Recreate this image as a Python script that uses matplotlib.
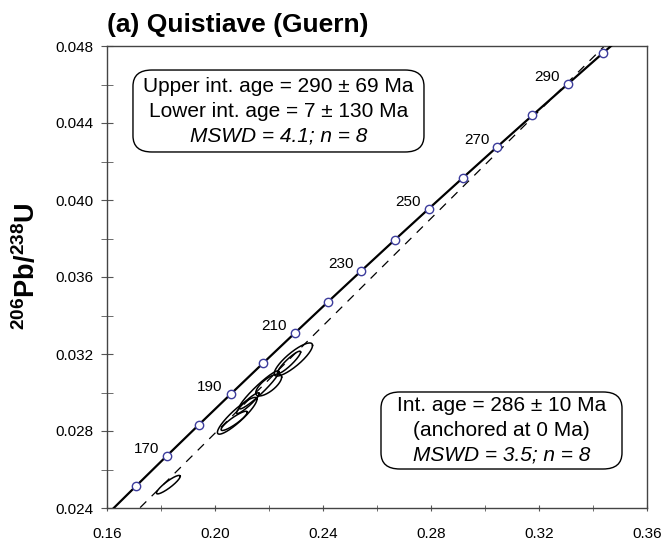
import numpy as np
import matplotlib
matplotlib.use('Agg')
import matplotlib.pyplot as plt
from matplotlib.patches import FancyBboxPatch

plt.rcParams['font.family'] = ['Liberation Sans', 'DejaVu Sans']
plt.rcParams['mathtext.fontset'] = 'custom'
plt.rcParams['mathtext.rm'] = 'Liberation Sans'
plt.rcParams['mathtext.bf'] = 'Liberation Sans:bold'

# concordia tick points (age in Ma, 207Pb/235U, 206Pb/238U)
conc_age = [150, 160, 170, 180, 190, 200, 210, 220, 230, 240, 250, 260, 270, 280, 290, 300, 310]
conc_x = [0.15920, 0.17068, 0.18225, 0.19396, 0.20578, 0.21770, 0.22975, 0.24191, 0.25420,
          0.26660, 0.27915, 0.29183, 0.30461, 0.31752, 0.33058, 0.34371, 0.35706]
conc_y = [0.023542, 0.025131, 0.026722, 0.028316, 0.029912, 0.031511, 0.033113, 0.034717,
          0.036323, 0.037932, 0.039543, 0.041157, 0.042773, 0.044392, 0.046014, 0.047638, 0.049264]
marker_ages = [160, 170, 180, 190, 200, 210, 220, 230, 240, 250, 260, 270, 280, 290, 300]
label_ages = [170, 190, 210, 230, 250, 270, 290]

# anchored regression line: 0 Ma to 286 Ma and beyond
anch_x = [0.0, 0.32535, 0.36]
anch_y = [0.0, 0.045365, 0.050197]

# analyses: 207/235, 2s, 206/238, 2s, rho
ell_x = [0.18272, 0.20822, 0.20711, 0.21217, 0.21630, 0.21989, 0.22741, 0.22902]
ell_sx = [0.00440, 0.00733, 0.00486, 0.00420, 0.00739, 0.00480, 0.00430, 0.00710]
ell_y = [0.025213, 0.028790, 0.028527, 0.029447, 0.030138, 0.030390, 0.031566, 0.031714]
ell_sy = [0.000480, 0.000955, 0.000500, 0.000540, 0.000990, 0.000570, 0.000580, 0.000860]
ell_rho = [0.90, 0.90, 0.90, 0.93, 0.95, 0.72, 0.92, 0.85]

fig = plt.figure(figsize=(6.63, 5.41), dpi=100)
ax = fig.add_axes([107 / 663, 1 - 508 / 541, 540 / 663, 462 / 541])

ax.plot(anch_x, anch_y, color='black', lw=0.9, ls=(0, (7, 6)), zorder=2)
ax.plot(conc_x, conc_y, color='black', lw=1.6, zorder=3)

mx = [conc_x[conc_age.index(a)] for a in marker_ages]
my = [conc_y[conc_age.index(a)] for a in marker_ages]
ax.plot(mx, my, 'o', ms=6, mfc='white', mec='#3c3c9c', mew=1.0, zorder=4)
for a in label_ages:
    i = conc_age.index(a)
    ax.annotate(str(a), (conc_x[i], conc_y[i]), xytext=(-15, 5), textcoords='offset points',
                ha='center', va='center', fontsize=11)

t = np.linspace(0, 2 * np.pi, 200)
for x0, sx, y0, sy, r in zip(ell_x, ell_sx, ell_y, ell_sy, ell_rho):
    ex = x0 + sx * np.cos(t)
    ey = y0 + sy * (r * np.cos(t) + np.sqrt(1 - r * r) * np.sin(t))
    ax.plot(ex, ey, color='black', lw=1.1, zorder=5)

ax.set_xlim(0.16, 0.36)
ax.set_ylim(0.024, 0.048)
ax.set_xticks(np.arange(0.16, 0.361, 0.04))
ax.set_xticks(np.arange(0.18, 0.36, 0.04), minor=True)
ax.set_yticks(np.arange(0.024, 0.0481, 0.004))
ax.set_yticks(np.arange(0.026, 0.048, 0.004), minor=True)
ax.set_xticklabels(['%.2f' % v for v in np.arange(0.16, 0.361, 0.04)])
ax.set_yticklabels(['%.3f' % v for v in np.arange(0.024, 0.0481, 0.004)])
ax.tick_params(axis='x', which='both', direction='inout', length=5, pad=11, labelsize=11, color='#555555')
ax.tick_params(axis='y', which='both', direction='inout', length=8, pad=6, labelsize=11, color='#555555')
for s in ax.spines.values():
    s.set_color('#444444')
    s.set_linewidth(1.0)


def text_box(x0, x1, y0, y1, xc, lines, ys):
    box = FancyBboxPatch((x0, y0), x1 - x0, y1 - y0, boxstyle='round,pad=0,rounding_size=0.035',
                         transform=ax.transAxes, fc='white', ec='black', lw=1.0, zorder=6)
    ax.add_patch(box)
    for (txt, style), y in zip(lines, ys):
        ax.text(xc, y, txt, transform=ax.transAxes, ha='center', va='center',
                fontsize=15, style=style, zorder=7)


text_box(0.0481, 0.587, 0.7706, 0.948, 0.3176,
         [('Upper int. age = 290 ± 69 Ma', 'normal'),
          ('Lower int. age = 7 ± 130 Ma', 'normal'),
          ('MSWD = 4.1; n = 8', 'italic')],
         [0.9134, 0.8582, 0.8052])
text_box(0.5074, 0.9537, 0.0844, 0.2511, 0.7306,
         [('Int. age = 286 ± 10 Ma', 'normal'),
          ('(anchored at 0 Ma)', 'normal'),
          ('MSWD = 3.5; n = 8', 'italic')],
         [0.2229, 0.1667, 0.1147])

fig.text(107 / 663, 1 - 32 / 541, '(a) Quistiave (Guern)', fontsize=19, fontweight='bold',
         ha='left', va='baseline')
fig.text(27 / 663, 1 - 266 / 541, r'$\mathbf{^{206}Pb/^{238}U}$', fontsize=19.5, rotation=90,
         ha='center', va='center')

fig.savefig('out.png', dpi=100)
